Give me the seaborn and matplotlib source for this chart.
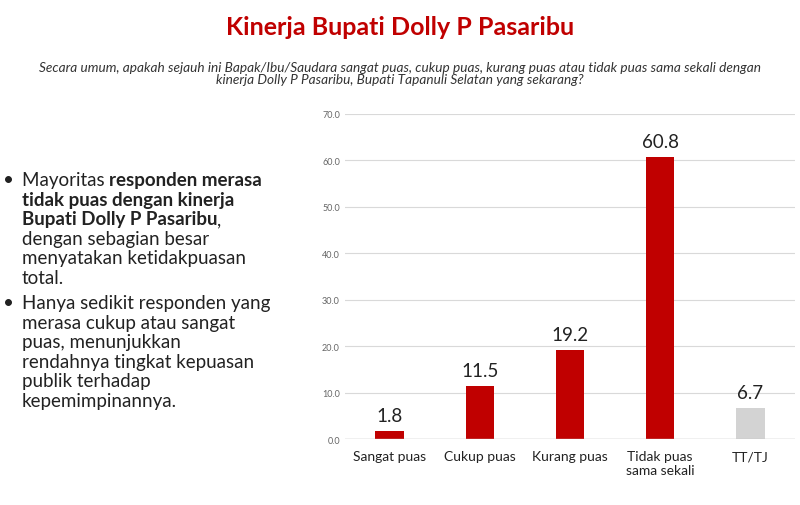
import matplotlib
matplotlib.use('Agg')
import matplotlib.pyplot as plt
import seaborn as sns
import pandas as pd

categories = ['Sangat puas', 'Cukup puas', 'Kurang puas', 'Tidak puas\nsama sekali', 'TT/TJ']
values = [1.8, 11.5, 19.2, 60.8, 6.7]
colors = ['#C00000', '#C00000', '#C00000', '#C00000', '#D3D3D3']
yticks = [0, 10, 20, 30, 40, 50, 60, 70]

plt.rcParams['font.family'] = 'Lato'
fig = plt.figure(figsize=(8, 5.06), dpi=100)
ax = fig.add_axes([0.431, 0.130, 0.563, 0.643])

df = pd.DataFrame({'cat': categories, 'val': values})
sns.barplot(data=df, x='cat', y='val', hue='cat', palette=colors, legend=False,
            width=0.32, saturation=1, ax=ax, zorder=3)
for i, v in enumerate(values):
    ax.text(i, v + 1.5, f'{v:.1f}', ha='center', va='bottom', fontsize=13.5, color='#222222')

ax.set_ylim(0, 70)
ax.set_yticks(yticks)
ax.set_yticklabels([f'{t:.1f}' for t in yticks], fontsize=6.5, color='#666666')
ax.grid(axis='y', color='#D9D9D9', linewidth=0.8, zorder=0)
ax.set_xlabel('')
ax.set_ylabel('')
ax.tick_params(axis='x', labelsize=10, length=0, colors='#222222', pad=8)
ax.tick_params(axis='y', length=0)
for s in ax.spines.values():
    s.set_visible(False)
ax.axhline(0, color='#BFBFBF', linewidth=1, zorder=4)

fig.text(0.5, 0.945, 'Kinerja Bupati Dolly P Pasaribu', ha='center', va='center',
         fontsize=18, fontweight='bold', color='#C00000')
fig.text(0.5, 0.853, 'Secara umum, apakah sejauh ini Bapak/Ibu/Saudara sangat puas, cukup puas, kurang puas atau tidak puas sama sekali dengan\n'
         'kinerja Dolly P Pasaribu, Bupati Tapanuli Selatan yang sekarang?',
         ha='center', va='center', fontsize=9.8, style='italic', color='#333333', linespacing=1.0)

# bullet text, mixed weights
lines = [
    [('Mayoritas ', 'normal'), ('responden merasa', 'bold')],
    [('tidak puas dengan kinerja', 'bold')],
    [('Bupati Dolly P Pasaribu', 'bold'), (',', 'normal')],
    [('dengan sebagian besar', 'normal')],
    [('menyatakan ketidakpuasan', 'normal')],
    [('total.', 'normal')],
    None,
    [('Hanya sedikit responden yang', 'normal')],
    [('merasa cukup atau sangat', 'normal')],
    [('puas, menunjukkan', 'normal')],
    [('rendahnya tingkat kepuasan', 'normal')],
    [('publik terhadap', 'normal')],
    [('kepemimpinannya.', 'normal')],
]
y = 0.632
bullet_rows = [0, 7]
for i, line in enumerate(lines):
    if line is None:
        y -= 0.012
        continue
    if i in bullet_rows:
        fig.text(0.004, y, '•', fontsize=13.5, va='baseline', color='#222222')
    prev = fig.text(0.027, y, line[0][0], fontsize=13.5, fontweight=line[0][1],
                    va='baseline', color='#222222')
    for txt, w in line[1:]:
        prev = ax.annotate(txt, xy=(1, 0), xycoords=prev, fontsize=13.5, fontweight=w,
                           va='bottom', ha='left', color='#222222', annotation_clip=False)
    y -= 0.0385

fig.savefig('out.png', dpi=100)
